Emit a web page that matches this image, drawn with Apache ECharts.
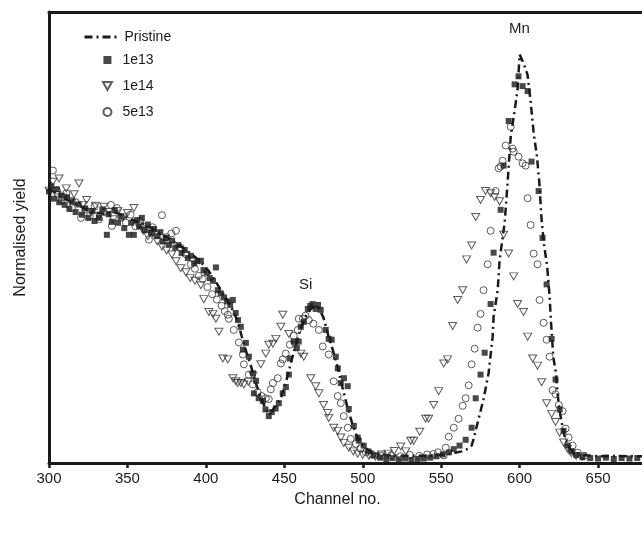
<!DOCTYPE html>
<html><head><meta charset="utf-8">
<script src="https://cdn.jsdelivr.net/npm/echarts@6/dist/echarts.min.js"></script>
<style>html,body{margin:0;padding:0;background:#fff}#c{width:642px;height:533px}</style>
</head><body><div id="c"></div>
<script>
const xTicks = [300, 350, 400, 450, 500, 550, 600, 650];
const seriesNames = ['Pristine', '1e13', '1e14', '5e13'];
const peakLabels = ['Mn', 'Si'];

const pristine = [[300,60.5],[304,59.5],[308,58.5],[312,57.8],[316,57.2],[320,56.5],[325,55.6],[330,55.0],[335,54.8],[340,55.2],[345,54.8],[350,53.9],[355,53.2],[360,52.6],[365,51.7],[370,50.6],[375,49.6],[380,48.5],[385,47.3],[390,46.0],[395,44.6],[400,42.8],[404,40.9],[408,38.6],[412,36.4],[416,34.0],[420,31.0],[423,27.2],[426,23.6],[429,20.4],[432,16.8],[435,13.6],[438,11.2],[440,10.2],[442,10.6],[445,12.0],[448,13.8],[451,17.0],[454,21.2],[457,25.0],[460,28.6],[463,31.4],[466,33.2],[469,34.0],[472,33.8],[475,31.5],[478,27.6],[481,24.2],[484,20.5],[487,16.0],[490,11.8],[493,8.2],[496,5.2],[499,3.4],[503,2.0],[508,1.2],[515,0.8],[525,0.6],[535,0.6],[545,0.7],[552,0.9],[558,1.2],[563,1.6],[566,2.0],[569.4,2.9],[570.7,4.4],[573.2,8.0],[577,13.3],[580.2,19.1],[582.8,27.3],[583.4,31.7],[586,37.7],[587.2,44.3],[590.5,53.0],[592.3,61.6],[594.3,72.1],[596.2,76.5],[597.4,79.4],[598.7,82.7],[600,90.5],[602.5,88.5],[605,86.0],[607,80.0],[609,72.7],[611,67.8],[612.5,62.0],[614,53.4],[615.5,48.0],[617.5,43.2],[619,36.8],[620,30.5],[621.5,22.6],[623,19.5],[624.2,14.5],[625.5,10.6],[627,7.8],[628.6,5.1],[630.6,2.9],[634,1.5],[640,0.8],[650,0.5],[660,0.6],[670,0.5],[678,0.5]];

const d1e13 = [[300,59.8],[301.5,61.0],[303,58.2],[305,60.3],[306.5,57.4],[308,58.9],[310,56.8],[311.5,58.5],[313,55.9],[315,57.6],[317,55.2],[319,56.9],[321,54.6],[323,56.0],[325,53.9],[327.5,55.4],[329,53.2],[331.8,53.9],[334,55.8],[336.9,50.1],[338,54.7],[340,53.0],[342,55.6],[344,52.8],[346,54.2],[348,51.6],[350.9,50.1],[352.5,52.8],[354.1,50.1],[356,53.4],[357.5,52.0],[359.2,53.9],[361,51.2],[363,52.4],[365,50.5],[367,51.4],[369,49.8],[371,50.7],[372.5,48.6],[374.5,49.4],[376.5,47.9],[378.5,48.8],[380.5,47.2],[382.5,47.8],[384.5,46.0],[386.5,46.7],[388.5,44.9],[390.5,45.4],[392.5,43.7],[394.5,44.2],[396.8,44.3],[398.5,42.2],[400.5,41.6],[402.5,40.4],[404.5,39.8],[406.4,42.8],[407.6,37.7],[409.5,37.0],[411.5,36.1],[413.5,35.2],[415.5,34.4],[417.2,35.5],[419,32.6],[420.5,31.0],[422.3,29.5],[423.6,24.4],[425.5,25.9],[427.4,22.8],[430,19.1],[430.6,14.6],[432,17.4],[433.7,13.5],[436.3,12.9],[438,11.0],[440.1,9.5],[442,10.4],[444.5,11.2],[446.5,12.4],[449,14.6],[451,16.0],[452.9,18.8],[453.5,22.4],[456,26.2],[458,24.8],[459.2,26.2],[460.5,29.5],[462.4,30.6],[465,33.5],[466.5,34.2],[468,34.6],[470,33.5],[471.5,34.4],[473.2,33.3],[476.4,28.8],[478.3,26.8],[480.2,26.6],[482.8,22.8],[484.1,20.2],[486,16.9],[488,18.0],[490.4,16.2],[491.1,11.1],[494.3,7.3],[496.8,4.7],[497.5,4.0],[500.6,2.9],[503.5,1.6],[507,0.7],[511,0.2],[515,-0.1],[519,0.1],[523,-0.2],[527,0.0],[531,-0.3],[535,-0.1],[539,0.0],[543,0.2],[547,0.5],[551,0.9],[555,1.4],[558,2.1],[561.7,2.9],[565.6,4.2],[569.4,6.9],[572,13.5],[575.1,18.8],[577.7,23.7],[581.5,34.6],[583.4,46.1],[587.9,55.7],[589.8,65.6],[593,75.6],[596.8,83.8],[599.3,85.6],[601.9,83.4],[605.1,82.3],[607.6,66.5],[612.1,59.9],[614.6,49.4],[617.2,39.0],[620.4,26.8],[622.9,17.7],[625.5,11.0],[628,6.2],[630.6,2.9],[633,1.6],[636,0.8],[640,0.3],[645,0.1],[650,0.0],[655,0.2],[660,-0.1],[665,0.1],[670,0.0],[675,0.1]];

const d1e14 = [[300,60.0],[302.5,62.0],[305,59.0],[306.4,62.7],[309,58.4],[311,60.5],[313.5,57.6],[316,59.2],[319.1,61.6],[321.5,56.8],[324,57.9],[327,55.2],[329.5,56.6],[332,54.4],[335,56.4],[338,55.2],[341,53.6],[344,55.4],[347,54.0],[350,55.0],[354.1,56.1],[357,52.2],[360,51.0],[363,49.8],[366,50.4],[369,48.6],[372,47.5],[375,46.6],[378.3,45.7],[381,44.2],[384,42.6],[387.3,41.7],[390,40.4],[393,39.8],[396.8,38.8],[398.7,35.7],[401.9,32.8],[404.5,32.4],[406.4,31.3],[408.3,28.4],[410.8,22.4],[414,22.2],[417.2,18.0],[419.1,17.3],[420.4,16.9],[422.3,16.9],[424.2,16.6],[427,17.2],[430,18.6],[435,21.1],[438.2,23.5],[440.1,25.5],[442.7,25.7],[444.6,26.8],[447.8,29.5],[449,32.2],[452.9,27.9],[456.5,25.5],[460.5,23.5],[462.4,22.8],[466.9,18.0],[470,16.2],[472,14.6],[475,12.0],[477.7,10.2],[478.3,9.1],[481.5,6.9],[484,6.2],[486,4.7],[487.9,3.5],[491.1,2.4],[494,1.6],[496.8,1.1],[500,0.8],[504,0.6],[508,0.4],[512,0.9],[516,1.1],[520,1.7],[524.2,2.7],[527.4,1.6],[530.6,4.0],[532.5,4.0],[536.3,6.0],[540.1,8.9],[542,8.9],[545.2,12.0],[548.4,15.1],[551.6,21.3],[554.1,22.2],[557.3,29.7],[560.5,35.5],[563.7,37.7],[566.2,44.6],[569.4,47.7],[572,54.1],[575.1,57.9],[578.3,59.9],[581.5,59.4],[584,58.6],[587.2,57.6],[589.8,50.1],[593,45.9],[596.2,40.8],[598.7,34.6],[602.5,32.8],[605.1,27.3],[608.3,22.4],[611.4,20.8],[614,17.1],[617.2,12.4],[620.4,10.0],[622.9,8.2],[625.5,5.8],[628,3.6],[630.5,2.2],[633,1.2],[636,0.6],[640,0.4]];

const d5e13 = [[302.5,64.5],[305,60.0],[308,57.8],[311,59.4],[314.6,56.1],[317,57.4],[320.4,53.9],[323,55.8],[326,54.3],[329,56.4],[332,53.6],[335,55.2],[339.5,56.8],[340.1,52.1],[343.3,56.1],[346,54.0],[349,52.8],[352,54.6],[355,52.0],[358,53.2],[361,51.4],[363.7,49.0],[366,51.8],[369,50.2],[372,54.5],[375,49.6],[378,50.4],[380.9,51.0],[384,47.2],[387,45.8],[390.4,43.5],[393,42.5],[395.5,40.9],[398,40.2],[401,38.4],[404,36.8],[407,35.6],[410,34.2],[412,33.0],[414,32.2],[414.6,31.3],[417.8,28.8],[421,26.0],[423.6,23.3],[424.2,21.1],[427.4,18.8],[430,16.6],[433,14.9],[435.5,14.0],[438.2,13.5],[440.1,13.3],[441.4,15.5],[442.7,16.9],[445.8,18.0],[447.8,21.3],[449,22.2],[450.9,23.5],[453.5,25.5],[456,27.5],[458.6,28.8],[459.2,31.3],[461.8,31.3],[463.5,32.0],[465.6,31.0],[468.5,30.2],[472,28.8],[474.5,25.1],[478.3,23.3],[481.5,17.3],[484,14.0],[486,12.4],[487.9,9.5],[490.4,6.9],[492.3,4.4],[495.5,3.3],[498.7,2.2],[502,1.4],[506,0.9],[512,0.6],[518,0.7],[524,0.5],[530,0.8],[536,0.6],[541,0.9],[545,1.0],[548,1.4],[551.6,0.7],[552.9,2.4],[554.8,4.9],[558,6.9],[561.1,8.9],[563.7,11.8],[565.6,13.5],[567.5,16.4],[569.4,21.1],[571.3,24.6],[573.2,29.3],[575.1,32.4],[577,37.7],[579.6,43.5],[581.5,51.0],[584.7,59.9],[586.6,65.0],[587.9,65.4],[589.2,66.7],[591.1,70.1],[594.3,74.3],[595.5,69.4],[596.2,68.7],[599.3,67.6],[601.9,66.1],[603.8,65.6],[605.1,58.3],[607,52.3],[608.9,45.9],[611.4,43.5],[612.7,35.5],[615.3,30.4],[617.2,26.6],[619.1,22.8],[621,15.3],[622.9,14.4],[625,12.0],[627.4,10.6],[629.3,6.7],[631.2,4.7],[633.8,2.9],[637,1.3],[641,0.6]];

const FONT = '"Liberation Sans", Arial, Helvetica, sans-serif';
const INK = '#1a1a1a';
const SQ = 'path://M0,0H10V10H0Z';
const TRI = 'path://M0,0L10,0L5,9Z';
const X_MIN = 300, X_MAX = 678;

const chart = echarts.init(document.getElementById('c'));
chart.setOption({
  animation: false,
  backgroundColor: '#fff',
  grid: { left: 49, top: 12, right: 0, bottom: 70, show: false },
  xAxis: [{
    type: 'value', min: X_MIN, max: X_MAX, interval: 50,
    name: 'Channel no.', nameLocation: 'middle', nameGap: 29,
    nameTextStyle: { fontFamily: FONT, fontSize: 16, color: INK, padding: [0, 16, 0, 0] },
    axisLine: { show: true, onZero: false, lineStyle: { color: INK, width: 3 } },
    axisTick: { show: true, length: 5, lineStyle: { color: INK, width: 2.5 } },
    axisLabel: { fontFamily: FONT, fontSize: 15, color: INK, margin: 8, showMaxLabel: false,
      formatter: v => xTicks.includes(v) ? String(v) : '' },
    splitLine: { show: false }
  }, {
    type: 'value', position: 'top', min: X_MIN, max: X_MAX,
    axisLine: { show: true, onZero: false, lineStyle: { color: INK, width: 3 } },
    axisTick: { show: false }, axisLabel: { show: false }, splitLine: { show: false }
  }],
  yAxis: {
    type: 'value', min: -1, max: 100,
    name: 'Normalised yield', nameLocation: 'middle', nameGap: 20,
    nameTextStyle: { fontFamily: FONT, fontSize: 16, color: INK },
    axisLine: { show: true, onZero: false, lineStyle: { color: INK, width: 3 } },
    axisTick: { show: false }, axisLabel: { show: false }, splitLine: { show: false }
  },
  legend: [
    { data: [seriesNames[0]], orient: 'vertical', left: 83, top: 30, padding: 0, itemWidth: 35, itemHeight: 10,
      itemStyle: { opacity: 0 }, lineStyle: { width: 3 },
      textStyle: { fontFamily: FONT, fontSize: 14, color: INK } },
    { data: seriesNames.slice(1), orient: 'vertical', left: 102, top: 53, padding: 0, itemWidth: 20, itemHeight: 8, itemGap: 12,
      textStyle: { fontFamily: FONT, fontSize: 14, color: INK, lineHeight: 14 } }
  ],
  graphic: [
    { type: 'text', left: 509, top: 21, style: { text: peakLabels[0], font: '15px ' + FONT, fill: INK } },
    { type: 'text', left: 299, top: 277, style: { text: peakLabels[1], font: '15px ' + FONT, fill: INK } }
  ],
  series: [
    { name: seriesNames[0], type: 'line', data: pristine, symbol: 'none', z: 2,
      lineStyle: { color: INK, width: 2.5, type: [8, 4, 2, 4] }, itemStyle: { color: INK } },
    { name: seriesNames[2], type: 'scatter', data: d1e14, symbol: TRI, symbolSize: [8, 7], z: 3,
      itemStyle: { color: 'rgba(255,255,255,0)', borderColor: '#333', borderWidth: 1 } },
    { name: seriesNames[3], type: 'scatter', data: d5e13, symbol: 'circle', symbolSize: 7, z: 3,
      itemStyle: { color: 'rgba(255,255,255,0)', borderColor: '#333', borderWidth: 1 } },
    { name: seriesNames[1], type: 'scatter', data: d1e13, symbol: SQ, symbolSize: 6, z: 4,
      itemStyle: { color: INK } }
  ]
});
</script></body></html>
